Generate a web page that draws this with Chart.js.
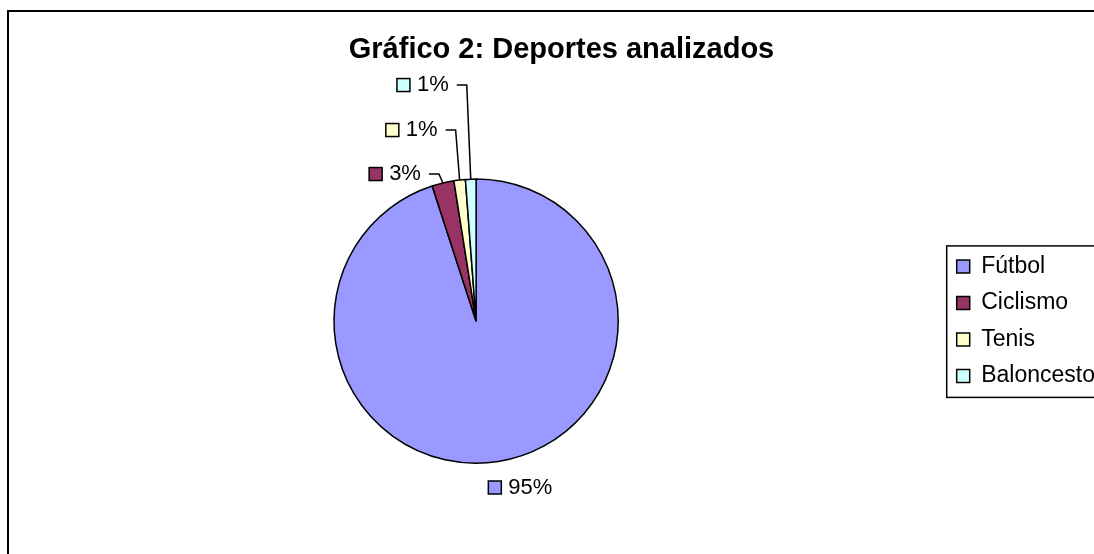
<!DOCTYPE html>
<html lang="es">
<head>
  <meta charset="UTF-8">
  <title>Gráfico 2: Deportes analizados</title>
  <script src="https://cdn.jsdelivr.net/npm/chart.js"></script>
  <style>
    body {
      margin: 0;
      background-color: white;
      overflow: hidden;
    }

    /* marco del gráfico, sale por la derecha y por abajo */
    #marco {
      position: absolute;
      left: 7px;
      top: 10px;
      width: 1105px;
      height: 545px;
      border: 2px solid #000;
    }
  </style>
</head>
<body>

  <div id="marco">
    <canvas id="grafico"></canvas>
  </div>

  <script>
    // Datos
    const deportes = ['Fútbol', 'Ciclismo', 'Tenis', 'Baloncesto'];
    const porcentajes = [95, 2.5, 1.3, 1.2];
    const colores = ['#9999FF', '#993366', '#FFFFCC', '#CCFFFF'];

    // altura de cada etiqueta sobre el borde de la tarta (null = debajo, sin línea guía)
    const subidaEtiqueta = [null, 5, 49, 94];

    const fuente = "'Liberation Sans', Arial, sans-serif";

    // Etiquetas de porcentaje con líneas guía
    const etiquetas = {
      id: 'etiquetas',
      afterDatasetsDraw(chart) {
        const ctx = chart.ctx;
        const arcos = chart.getDatasetMeta(0).data;
        const total = porcentajes.reduce((a, b) => a + b, 0);
        ctx.save();
        ctx.font = '22px ' + fuente;
        ctx.textBaseline = 'middle';
        ctx.textAlign = 'left';
        ctx.lineWidth = 1.5;
        ctx.strokeStyle = '#000';
        arcos.forEach((arco, i) => {
          const { x, y, startAngle, endAngle, outerRadius } =
            arco.getProps(['x', 'y', 'startAngle', 'endAngle', 'outerRadius'], true);
          const medio = (startAngle + endAngle) / 2;
          const ax = x + Math.cos(medio) * outerRadius;
          const ay = y + Math.sin(medio) * outerRadius;
          const texto = Math.round(porcentajes[i] / total * 100) + '%';
          const ancho = ctx.measureText(texto).width;
          let cx, ty;
          if (subidaEtiqueta[i] === null) {
            cx = ax - 10;
            ty = ay + 26;
          } else {
            ty = y - outerRadius - subidaEtiqueta[i];
            const codo = ax - 4;
            ctx.beginPath();
            ctx.moveTo(ax, ay);
            ctx.lineTo(codo, ty);
            ctx.lineTo(codo - 10, ty);
            ctx.stroke();
            cx = codo - 10 - 8 - ancho - 7 - 13;
          }
          ctx.fillStyle = colores[i];
          ctx.fillRect(cx, ty - 6.5, 13, 13);
          ctx.strokeRect(cx, ty - 6.5, 13, 13);
          ctx.fillStyle = '#000';
          ctx.fillText(texto, cx + 13 + 7, ty);
        });
        ctx.restore();
      }
    };

    // Recuadro de la leyenda y ajuste del título
    const marcoLeyenda = {
      id: 'marcoLeyenda',
      afterLayout(chart) {
        chart.titleBlock.left += 4.5;
        chart.titleBlock.right += 4.5;
      },
      afterDraw(chart) {
        const cajas = chart.legend.legendHitBoxes;
        if (!cajas || !cajas.length) return;
        const ctx = chart.ctx;
        const izq = Math.min(...cajas.map(c => c.left)) - 10;
        const arriba = cajas[0].top - 9;
        const ultima = cajas[cajas.length - 1];
        const abajo = ultima.top + ultima.height + 10;
        ctx.save();
        ctx.lineWidth = 1.5;
        ctx.strokeStyle = '#000';
        ctx.strokeRect(izq, arriba, chart.width - izq + 10, abajo - arriba);
        ctx.restore();
      }
    };

    new Chart(document.getElementById('grafico'), {
      type: 'pie',
      data: {
        labels: deportes,
        datasets: [{
          data: porcentajes,
          backgroundColor: colores,
          borderColor: '#000',
          borderWidth: 1.5
        }]
      },
      options: {
        responsive: true,
        maintainAspectRatio: false,
        animation: false,
        layout: { padding: { left: 0, right: 9, top: 0, bottom: 93 } },
        plugins: {
          title: {
            display: true,
            text: 'Gráfico 2: Deportes analizados',
            color: '#000',
            font: { family: fuente, size: 29, weight: 'bold' },
            padding: { top: 21, bottom: 110.5 }
          },
          legend: {
            position: 'right',
            fullSize: false,
            labels: {
              color: '#000',
              font: { family: fuente, size: 23 },
              boxWidth: 13,
              boxHeight: 13,
              padding: 13.5
            }
          },
          tooltip: { enabled: false }
        }
      },
      plugins: [etiquetas, marcoLeyenda]
    });
  </script>

</body>
</html>
